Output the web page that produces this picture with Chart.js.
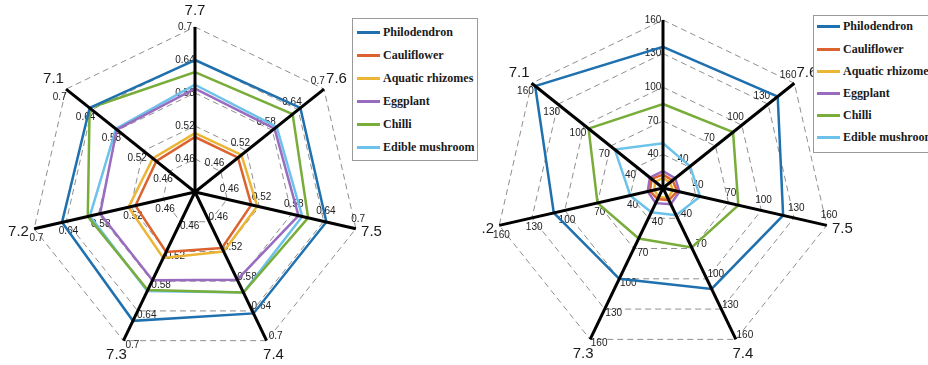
<!DOCTYPE html>
<html>
<head>
<meta charset="utf-8">
<script src="https://cdn.jsdelivr.net/npm/chart.js@4.4.1/dist/chart.umd.min.js"></script>
<style>
  html, body { margin: 0; padding: 0; background: #fff; width: 928px; height: 365px; overflow: hidden; position: relative; }
  #leftChart { position: absolute; left: 0; top: 0; }
  #rightWrap { position: absolute; left: 482px; top: 14px; width: 446px; height: 351px; overflow: hidden; }
  .legend { position: absolute; border: 1px solid #9a9a9a; background: #fff; box-sizing: border-box;
            font: bold 12px "Liberation Serif", "Times New Roman", serif; color: #1a1a1a; }
  .legend .row { position: absolute; left: 0; height: 16px; display: flex; align-items: center; white-space: nowrap; }
  .legend .sw { height: 3px; flex: none; }
</style>
</head>
<body>
<canvas id="leftChart" width="484" height="365"></canvas>
<div id="rightWrap"><canvas id="rightChart" width="446" height="351"></canvas></div>
<div class="legend" id="leftLegend" style="left:352px;top:18px;width:126px;height:143px;"></div>
<div class="legend" id="rightLegend" style="left:813px;top:15px;width:130px;height:138px;"></div>

<script>
// Spokes, clockwise from the top
const categories = ['7.7', '7.6', '7.5', '7.4', '7.3', '7.2', '7.1'];
const seriesNames = ['Philodendron', 'Cauliflower', 'Aquatic rhizomes', 'Eggplant', 'Chilli', 'Edible mushroom'];
const seriesColors = ['#1f70ae', '#dc6330', '#ebb536', '#9a6cc0', '#78ad3a', '#6cc2ea'];

// Left panel
const leftPhilodendron = [0.640, 0.645, 0.645, 0.645, 0.660, 0.648, 0.645];
const leftCauliflower  = [0.500, 0.500, 0.505, 0.513, 0.521, 0.511, 0.490];
const leftAquatic      = [0.507, 0.508, 0.516, 0.520, 0.533, 0.524, 0.498];
const leftEggplant     = [0.588, 0.585, 0.593, 0.577, 0.578, 0.577, 0.582];
const leftChilli       = [0.618, 0.627, 0.611, 0.603, 0.598, 0.600, 0.645];
const leftMushroom     = [0.595, 0.590, 0.600, 0.603, 0.600, 0.596, 0.584];
const leftTickLabels   = ['0.46', '0.52', '0.58', '0.64', '0.7'];

// Right panel
const rightPhilodendron = [136, 141, 120, 110, 100, 110, 156];
const rightCauliflower  = [22, 21, 23, 22, 21, 22, 23];
const rightAquatic      = [19, 18, 19, 20, 19, 18, 19];
const rightEggplant     = [25, 24, 25, 26, 25, 24, 25];
const rightChilli       = [85, 90, 79, 69, 60, 70, 95];
const rightMushroom     = [50, 41, 44, 37, 34, 40, 65];
const rightTickLabels   = ['40', '70', '100', '130', '160'];

// Draws value labels along every spoke, the black spokes and the category names
const spokeDecor = {
  id: 'spokeDecor',
  beforeDatasetsDraw(chart, args, opts) {
    const s = chart.scales.r, ctx = chart.ctx;
    ctx.save();
    ctx.font = '10px "Liberation Sans", Arial, sans-serif';
    ctx.fillStyle = '#222';
    ctx.textAlign = 'center';
    ctx.textBaseline = 'middle';
    chart.data.labels.forEach((lab, i) => {
      const a = s.getIndexAngle(i) - Math.PI / 2;
      const dx = Math.cos(a), dy = Math.sin(a);
      const px = dy, py = -dx;
      opts.tickLabels.forEach(t => {
        const d = s.getDistanceFromCenterForValue(parseFloat(t));
        ctx.fillText(t, s.xCenter + dx * d + px * opts.tickOffset, s.yCenter + dy * d + py * opts.tickOffset);
      });
    });
    ctx.restore();
  },
  afterDatasetsDraw(chart, args, opts) {
    const s = chart.scales.r, ctx = chart.ctx;
    ctx.save();
    ctx.strokeStyle = '#000';
    ctx.lineWidth = 3;
    ctx.lineCap = 'butt';
    chart.data.labels.forEach((lab, i) => {
      const p = s.getPointPosition(i, s.drawingArea);
      ctx.beginPath();
      ctx.moveTo(s.xCenter, s.yCenter);
      ctx.lineTo(p.x, p.y);
      ctx.stroke();
    });
    ctx.font = '15px "Liberation Sans", Arial, sans-serif';
    ctx.fillStyle = '#1a1a1a';
    ctx.textAlign = 'center';
    ctx.textBaseline = 'middle';
    chart.data.labels.forEach((lab, i) => {
      const p = s.getPointPosition(i, s.drawingArea + opts.labelOffset);
      ctx.fillText(lab, p.x, p.y);
    });
    ctx.restore();
  }
};

function makeDatasets(values) {
  return values.map((v, i) => ({
    label: seriesNames[i],
    data: v,
    borderColor: seriesColors[i],
    backgroundColor: seriesColors[i],
    borderWidth: 2.5,
    fill: false,
    pointRadius: 0,
    pointHoverRadius: 0,
    tension: 0
  }));
}

function makeRadar(canvasId, values, min, max, step, tickLabels, padding) {
  return new Chart(document.getElementById(canvasId), {
    type: 'radar',
    data: { labels: categories, datasets: makeDatasets(values) },
    options: {
      responsive: false,
      animation: false,
      layout: { padding },
      plugins: {
        legend: { display: false },
        tooltip: { enabled: false },
        spokeDecor: { tickLabels, tickOffset: 10, labelOffset: 16 }
      },
      scales: {
        r: {
          min, max,
          ticks: { display: false, stepSize: step },
          grid: { color: '#8f8f8f', lineWidth: 1 },
          border: { dash: [6, 4] },
          angleLines: { display: false },
          pointLabels: { display: false }
        }
      }
    },
    plugins: [spokeDecor]
  });
}

makeRadar('leftChart',
  [leftPhilodendron, leftCauliflower, leftAquatic, leftEggplant, leftChilli, leftMushroom],
  0.4, 0.7, 0.06, leftTickLabels, { left: 30, right: 124, top: 27, bottom: 8 });

makeRadar('rightChart',
  [rightPhilodendron, rightCauliflower, rightAquatic, rightEggplant, rightChilli, rightMushroom],
  10, 160, 30, rightTickLabels, { left: 13, right: 97, top: 6, bottom: 9 });

// Legend boxes
function buildLegend(id, rowTops, swLeft, swWidth) {
  const box = document.getElementById(id);
  seriesNames.forEach((name, i) => {
    const row = document.createElement('div');
    row.className = 'row';
    row.style.top = rowTops[i] + 'px';
    const sw = document.createElement('span');
    sw.className = 'sw';
    sw.style.background = seriesColors[i];
    sw.style.marginLeft = swLeft + 'px';
    sw.style.marginRight = '3px';
    sw.style.width = swWidth + 'px';
    const tx = document.createElement('span');
    tx.textContent = name;
    row.appendChild(sw);
    row.appendChild(tx);
    box.appendChild(row);
  });
}
buildLegend('leftLegend', [5, 28, 51, 74, 97, 120], 4, 23);
buildLegend('rightLegend', [2, 25, 47, 69, 91, 113], 3, 23);
</script>
</body>
</html>
